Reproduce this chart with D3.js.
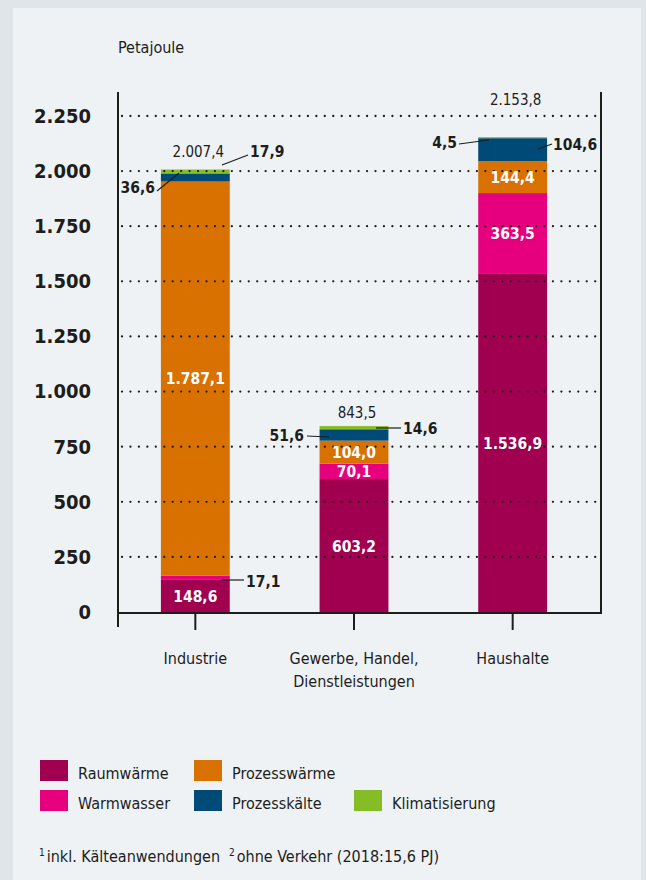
<!DOCTYPE html>
<html>
<head>
<meta charset="utf-8">
<script src="https://cdnjs.cloudflare.com/ajax/libs/d3/7.8.5/d3.min.js"></script>
<style>
  body { margin: 0; background: #dfe5e9; }
  svg { display: block; }
  text { font-family: "DejaVu Sans Condensed", "Liberation Sans Narrow", "Open Sans", sans-serif; fill: #1d1d1b; }
</style>
</head>
<body>
<svg width="646" height="880"></svg>
<script>
// Daten: Endenergieverbrauch nach Anwendungen (Petajoule)
var sektoren = ["Industrie", "Gewerbe, Handel,|Dienstleistungen", "Haushalte"];
var anwendungen = ["Raumwärme", "Warmwasser", "Prozesswärme", "Prozesskälte", "Klimatisierung"];
var raumwaerme = [148.6, 603.2, 1536.9];
var warmwasser = [17.1, 70.1, 363.5];
var prozesswaerme = [1787.1, 104.0, 144.4];
var prozesskaelte = [36.6, 51.6, 104.6];
var klimatisierung = [17.9, 14.6, 4.5];
var summen = ["2.007,4", "843,5", "2.153,8"];
var yTicks = [0, 250, 500, 750, 1000, 1250, 1500, 1750, 2000, 2250];
var farben = ["#a0004f", "#e6007e", "#d97100", "#004a77", "#86bc25"];

var svg = d3.select("svg");

// Hintergrund-Panel
svg.append("rect").attr("x", 13).attr("y", 8).attr("width", 628).attr("height", 880)
  .attr("fill", "#eef2f5");

var pLeft = 118, pRight = 601, pTop = 92, pBottom = 613;

var y = d3.scaleLinear().domain([0, 2250]).range([612, 116]);
var x = d3.scaleBand().domain(sektoren).range([116, 592]).paddingInner(0.566).paddingOuter(0.283);

var rows = sektoren.map(function(s, i) {
  return { sektor: s, "Raumwärme": raumwaerme[i], "Warmwasser": warmwasser[i],
    "Prozesswärme": prozesswaerme[i], "Prozesskälte": prozesskaelte[i], "Klimatisierung": klimatisierung[i] };
});
var stack = d3.stack().keys(anwendungen)(rows);
var color = d3.scaleOrdinal().domain(anwendungen).range(farben);

// Balken
svg.append("g").selectAll("g").data(stack).enter().append("g")
  .attr("fill", function(d) { return color(d.key); })
  .selectAll("rect").data(function(d) { return d; }).enter().append("rect")
  .attr("x", function(d) { return x(d.data.sektor); })
  .attr("width", x.bandwidth())
  .attr("y", function(d) { return y(d[1]); })
  .attr("height", function(d) { return y(d[0]) - y(d[1]); });

// Gitterlinien (über den Balken)
svg.append("g").selectAll("line").data(yTicks.slice(1)).enter().append("line")
  .attr("x1", pLeft + 4).attr("x2", pRight - 2)
  .attr("y1", function(d) { return y(d); }).attr("y2", function(d) { return y(d); })
  .attr("stroke", "#1d1d1b").attr("stroke-width", 2.3)
  .attr("stroke-linecap", "round").attr("stroke-dasharray", "0 8.45");

// Achsen
var yAxis = d3.axisLeft(y).tickValues(yTicks).tickSize(0).tickPadding(27)
  .tickFormat(function(d) { return d3.format(",")(d).replace(/,/g, "."); });
var gy = svg.append("g").attr("transform", "translate(" + pLeft + ",0)").call(yAxis);
gy.select(".domain").remove();
gy.selectAll("text").attr("font-size", 20).attr("font-weight", "bold")
  .attr("font-family", "'Open Sans', sans-serif").attr("fill", "#1d1d1b");

svg.append("path")
  .attr("d", "M" + pLeft + "," + pTop + "V" + (pBottom + 14) + "M" + pLeft + "," + pBottom + "H" + pRight + "V" + pTop)
  .attr("fill", "none").attr("stroke", "#1d1d1b").attr("stroke-width", 2);

svg.append("g").selectAll("line").data(sektoren).enter().append("line")
  .attr("x1", function(d) { return x(d) + x.bandwidth() / 2; })
  .attr("x2", function(d) { return x(d) + x.bandwidth() / 2; })
  .attr("y1", pBottom).attr("y2", pBottom + 17)
  .attr("stroke", "#1d1d1b").attr("stroke-width", 2);

// Kategorien
svg.append("g").selectAll("text").data(sektoren).enter().append("text")
  .attr("x", function(d) { return x(d) + x.bandwidth() / 2; })
  .attr("y", 664).attr("text-anchor", "middle").attr("font-size", 16)
  .each(function(d) {
    var t = d3.select(this);
    d.split("|").forEach(function(p, i) {
      t.append("tspan").attr("x", x(d) + x.bandwidth() / 2).attr("dy", i ? 23 : 0).text(p);
    });
  });

svg.append("text").attr("x", pLeft).attr("y", 53).attr("font-size", 16).text("Petajoule");

function fmt(v) { return d3.format(",.1f")(v).replace(/,/g, "#").replace(".", ",").replace(/#/g, "."); }
function mitte(i) { return x(sektoren[i]) + x.bandwidth() / 2; }

// Werte in den Balken
var innen = [
  { s: 0, k: 0 }, { s: 0, k: 2 },
  { s: 1, k: 0 }, { s: 1, k: 1 }, { s: 1, k: 2 },
  { s: 2, k: 0 }, { s: 2, k: 1 }, { s: 2, k: 2 }
];
svg.append("g").selectAll("text").data(innen).enter().append("text")
  .attr("x", function(d) { return mitte(d.s); })
  .attr("y", function(d) { var seg = stack[d.k][d.s]; return (y(seg[0]) + y(seg[1])) / 2 + 6; })
  .attr("text-anchor", "middle").attr("font-size", 15.5).attr("font-weight", "bold")
  .style("fill", "#fff")
  .text(function(d) { var seg = stack[d.k][d.s]; return fmt(seg[1] - seg[0]); });

// Summen über den Balken
var summenY = [157, 418, 105];
svg.append("g").selectAll("text").data(summen).enter().append("text")
  .attr("x", function(d, i) { return mitte(i) + 3; })
  .attr("y", function(d, i) { return summenY[i]; })
  .attr("text-anchor", "middle").attr("font-size", 15).text(function(d) { return d; });

// Beschriftungen mit Hinweislinien
var aussen = [
  { s: 0, k: 1, tx: 246, ty: 587, anchor: "start", x1: 222, y1: 580, x2: 244, y2: 580 },
  { s: 0, k: 3, tx: 155, ty: 193, anchor: "end", x1: 157, y1: 191, x2: 179, y2: 173 },
  { s: 0, k: 4, tx: 250, ty: 157, anchor: "start", x1: 222, y1: 165, x2: 248, y2: 155 },
  { s: 1, k: 3, tx: 304, ty: 441, anchor: "end", x1: 307, y1: 436, x2: 329, y2: 437 },
  { s: 1, k: 4, tx: 403, ty: 434, anchor: "start", x1: 376, y1: 428, x2: 401, y2: 428 },
  { s: 2, k: 4, tx: 457, ty: 148, anchor: "end", x1: 459, y1: 144, x2: 489, y2: 140 },
  { s: 2, k: 3, tx: 553, ty: 150, anchor: "start", x1: 538, y1: 149, x2: 552, y2: 144 }
];
var ga = svg.append("g");
ga.selectAll("line").data(aussen).enter().append("line")
  .attr("x1", function(d) { return d.x1; }).attr("y1", function(d) { return d.y1; })
  .attr("x2", function(d) { return d.x2; }).attr("y2", function(d) { return d.y2; })
  .attr("stroke", "#1d1d1b").attr("stroke-width", 1.2);
ga.selectAll("text").data(aussen).enter().append("text")
  .attr("x", function(d) { return d.tx; }).attr("y", function(d) { return d.ty; })
  .attr("text-anchor", function(d) { return d.anchor; })
  .attr("font-size", 15.5).attr("font-weight", "bold")
  .text(function(d) { var seg = stack[d.k][d.s]; return fmt(seg[1] - seg[0]); });

// Legende
var legPos = [[40, 760], [40, 790], [194, 760], [194, 790], [354, 790]];
var lg = svg.append("g").selectAll("g").data(anwendungen).enter().append("g")
  .attr("transform", function(d, i) { return "translate(" + legPos[i][0] + "," + legPos[i][1] + ")"; });
lg.append("rect").attr("width", 28).attr("height", 21).attr("fill", function(d) { return color(d); });
lg.append("text").attr("x", 38).attr("y", 19).attr("font-size", 16).text(function(d) { return d; });

// Fußnoten
var fn = svg.append("text").attr("x", 39).attr("y", 862).attr("font-size", 16);
fn.append("tspan").attr("font-size", 10).attr("dy", -6).text("1");
fn.append("tspan").attr("dy", 6).attr("dx", 2).text("inkl. Kälteanwendungen");
var fn2 = svg.append("text").attr("x", 229).attr("y", 862).attr("font-size", 16);
fn2.append("tspan").attr("font-size", 10).attr("dy", -6).text("2");
fn2.append("tspan").attr("dy", 6).attr("dx", 2).text("ohne Verkehr (2018:15,6 PJ)");
</script>
</body>
</html>
